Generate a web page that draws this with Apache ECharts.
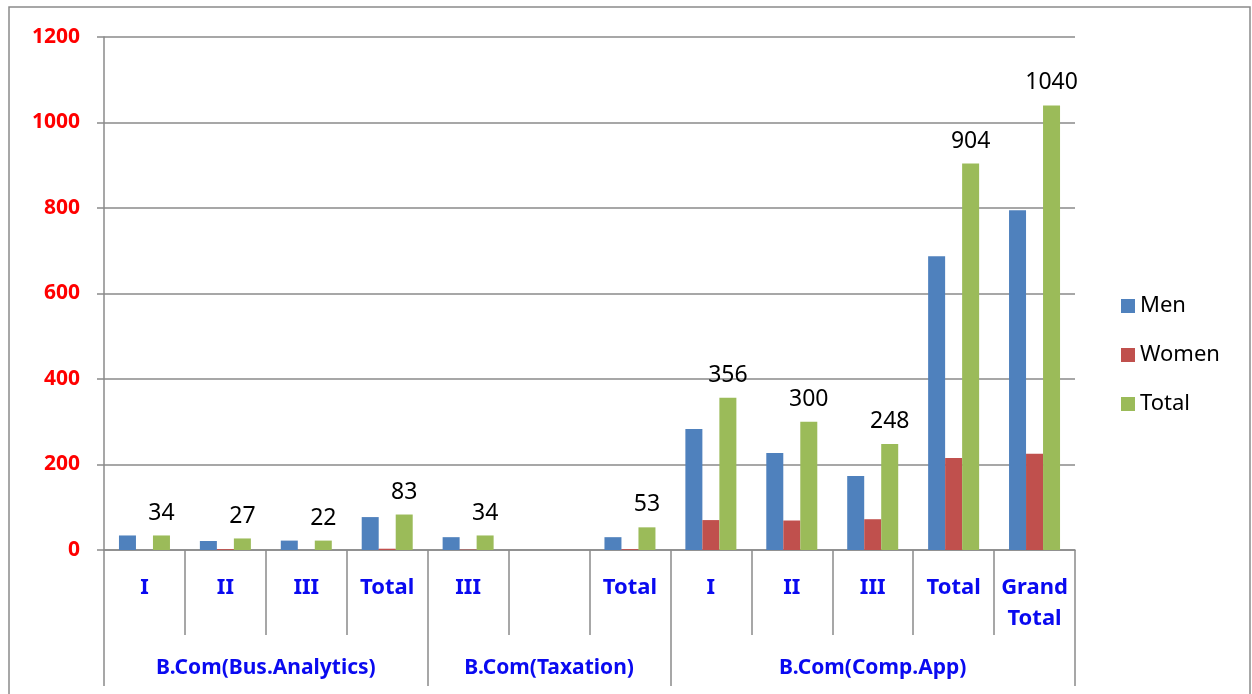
<!DOCTYPE html>
<html>
<head>
<meta charset="utf-8">
<script src="https://cdn.jsdelivr.net/npm/echarts@6/dist/echarts.min.js"></script>
<style>
  html, body { margin: 0; padding: 0; background: #ffffff; }
  #chartBar { width: 1252px; height: 694px; }
</style>
</head>
<body>
<div id="chartBar"></div>
<script>
// 类目（第一层）
const classes = ['I', 'II', 'III', 'Total', 'III', '', 'Total', 'I', 'II', 'III', 'Total', 'Grand\nTotal'];
// 分组（第二层）及每组跨度
const groups = ['B.Com(Bus.Analytics)', 'B.Com(Taxation)', 'B.Com(Comp.App)'];
const groupSpans = [4, 3, 5];
// 数值
const men = [34, 21, 22, 77, 30, null, 30, 283, 227, 173, 687, 795];
const women = [0, 2, 0, 3, 1, null, 2, 70, 69, 72, 215, 225];
const total = [34, 27, 22, 83, 34, null, 53, 356, 300, 248, 904, 1040];
const yTicks = [0, 200, 400, 600, 800, 1000, 1200];

// 分组边界与中心
const bounds = [0];
groupSpans.forEach((s, i) => bounds.push(bounds[i] + s));
const centers = groupSpans.map((s, i) => bounds[i] + s / 2);

const gray = '#8a8a8a';
const font = '"Noto Sans", sans-serif';

const option = {
  animation: false,
  graphic: [{
    type: 'rect',
    shape: { x: 9, y: 7, width: 1241, height: 720 },
    style: { fill: 'none', stroke: gray, lineWidth: 1.5 },
    silent: true
  }],
  legend: {
    orient: 'vertical',
    left: 1116,
    top: 290,
    itemWidth: 14,
    itemHeight: 14,
    itemGap: 27,
    icon: 'rect',
    textStyle: { fontSize: 22, color: '#000', fontFamily: font }
  },
  grid: { left: 104, right: 177, top: 37, bottom: 144, containLabel: false },
  xAxis: [
    {
      type: 'category',
      data: classes,
      axisLine: { show: true, lineStyle: { color: gray, width: 1.5 } },
      axisTick: { show: true, interval: 0, length: 85, lineStyle: { color: gray, width: 1.5 } },
      axisLabel: {
        interval: 0,
        margin: 22,
        color: '#0a0af0',
        fontWeight: 'bold',
        fontSize: 22,
        lineHeight: 31,
        fontFamily: font
      }
    },
    {
      type: 'value',
      position: 'bottom',
      offset: 85,
      min: 0,
      max: bounds[bounds.length - 1],
      axisLine: { show: false },
      splitLine: { show: false },
      axisTick: { show: true, length: 51, customValues: bounds, lineStyle: { color: gray, width: 1.5 } },
      axisLabel: {
        customValues: centers,
        margin: 23,
        color: '#0a0af0',
        fontWeight: 'bold',
        fontSize: 21,
        fontFamily: font,
        formatter: (v) => groups[centers.indexOf(v)] || ''
      }
    }
  ],
  yAxis: {
    type: 'value',
    min: yTicks[0],
    max: yTicks[yTicks.length - 1],
    interval: 200,
    axisLine: { show: true, lineStyle: { color: gray, width: 1.5 } },
    axisTick: { show: true, length: 7, lineStyle: { color: gray, width: 1.5 } },
    splitLine: { show: true, lineStyle: { color: gray, width: 1.5 } },
    axisLabel: {
      color: '#ff0000', fontWeight: 'bold', fontSize: 21, margin: 24, fontFamily: font,
      formatter: (v) => String(v)
    }
  },
  series: [
    {
      name: 'Men', type: 'bar', data: men, barWidth: 17, barGap: '0%',
      itemStyle: { color: '#4F81BD' }
    },
    {
      name: 'Women', type: 'bar', data: women, barWidth: 17, barGap: '0%',
      itemStyle: { color: '#C0504D' }
    },
    {
      name: 'Total', type: 'bar', data: total, barWidth: 17, barGap: '0%',
      itemStyle: { color: '#9BBB59' },
      label: { show: true, position: 'top', distance: 11, fontSize: 23, color: '#000', fontFamily: font }
    }
  ]
};

var myChart = echarts.init(document.getElementById('chartBar'));
myChart.setOption(option);
</script>
</body>
</html>
